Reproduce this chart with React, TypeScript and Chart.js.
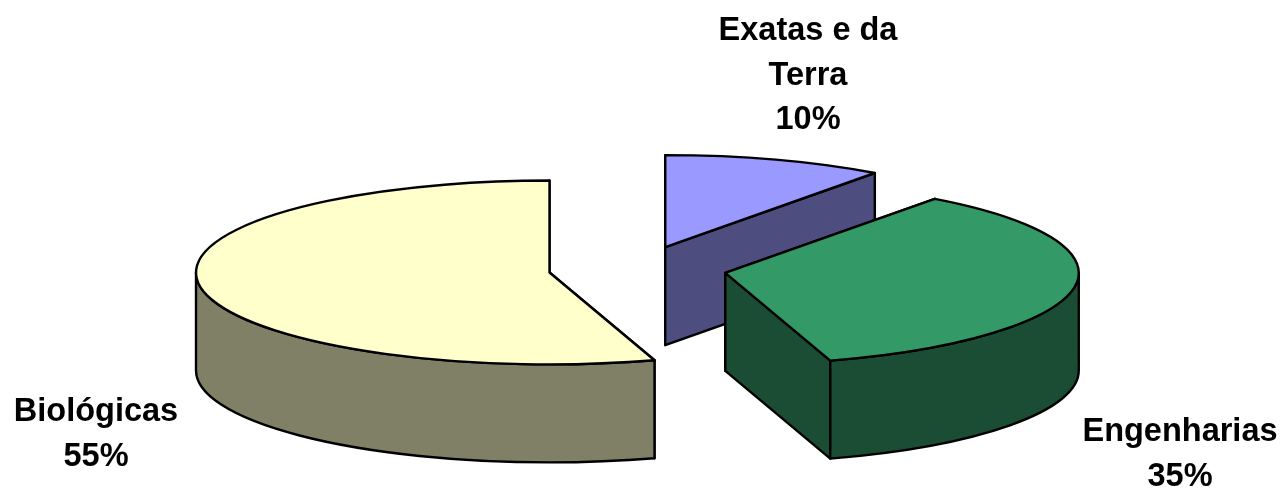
import React, { useEffect, useRef } from "react";
import { Chart, registerables } from "chart.js";

Chart.register(...registerables);

const categories = ["Exatas e da Terra", "Engenharias", "Biológicas"];
const shares = [10.1, 35.1, 54.8];
const topColors = ["#9999FF", "#339966", "#FFFFCC"];
const sideColors = ["#4D4D80", "#1A4D33", "#808066"];
const labelLines = [["Exatas e da", "Terra", "10%"], ["Engenharias", "35%"], ["Biológicas", "55%"]];
const labelAnchors = [[808, 40], [1180, 441], [96, 421]];

const SQUASH = 0.26;
const DEPTH = 98;
const LINE_GAP = 44.5;
const FONT = 'bold 32.5px "Liberation Sans", Arial, sans-serif';

const pie3d = {
  id: "pie3d",
  beforeDatasetDraw() {
    return false;
  },
  afterDatasetsDraw(chart: any) {
    const ctx: CanvasRenderingContext2D = chart.ctx;
    const arcs = chart.getDatasetMeta(0).data;
    ctx.save();
    ctx.lineWidth = 2.4;
    ctx.lineJoin = "round";
    ctx.strokeStyle = "#000";
    arcs.forEach((arc: any, i: number) => {
      const { startAngle: a0, endAngle: a1, outerRadius: r, x, y } = arc;
      const off = arc.options.offset;
      const mid = (a0 + a1) / 2;
      const cx = x + Math.cos(mid) * off;
      const cy = y + Math.sin(mid) * off * SQUASH;
      const ry = r * SQUASH;
      const px = (a: number) => cx + Math.cos(a) * r;
      const py = (a: number) => cy + Math.sin(a) * ry;
      const paint = (fill: string) => {
        ctx.fillStyle = fill;
        ctx.fill();
        ctx.stroke();
      };
      const face = (a: number) => {
        ctx.beginPath();
        ctx.moveTo(cx, cy);
        ctx.lineTo(px(a), py(a));
        ctx.lineTo(px(a), py(a) + DEPTH);
        ctx.lineTo(cx, cy + DEPTH);
        ctx.closePath();
        paint(sideColors[i]);
      };
      face(a0);
      face(a1);
      const w0 = Math.max(a0, 0);
      const w1 = Math.min(a1, Math.PI);
      if (w1 > w0) {
        ctx.beginPath();
        ctx.ellipse(cx, cy, r, ry, 0, w0, w1);
        ctx.ellipse(cx, cy + DEPTH, r, ry, 0, w1, w0, true);
        ctx.closePath();
        paint(sideColors[i]);
      }
      ctx.beginPath();
      ctx.moveTo(cx, cy);
      ctx.ellipse(cx, cy, r, ry, 0, a0, a1);
      ctx.closePath();
      paint(topColors[i]);
    });
    ctx.fillStyle = "#000";
    ctx.font = FONT;
    ctx.textAlign = "center";
    ctx.textBaseline = "alphabetic";
    labelLines.forEach((lines, i) => {
      lines.forEach((t, k) => ctx.fillText(t, labelAnchors[i][0], labelAnchors[i][1] + k * LINE_GAP));
    });
    ctx.restore();
  },
};

export default function App() {
  const ref = useRef<HTMLCanvasElement>(null);
  useEffect(() => {
    document.body.style.margin = "0";
    document.body.style.background = "#fff";
    const chart = new Chart(ref.current!, {
      type: "pie",
      data: {
        labels: categories,
        datasets: [{ data: shares, backgroundColor: topColors, offset: 89, borderWidth: 0 }],
      },
      options: {
        responsive: false,
        animation: false,
        radius: 353.5,
        layout: { padding: { right: 10, top: 50 } },
        plugins: { legend: { display: false }, tooltip: { enabled: false } },
      },
      plugins: [pie3d],
    } as any);
    return () => chart.destroy();
  }, []);
  return <canvas ref={ref} width={1285} height={488} style={{ display: "block" }} />;
}
